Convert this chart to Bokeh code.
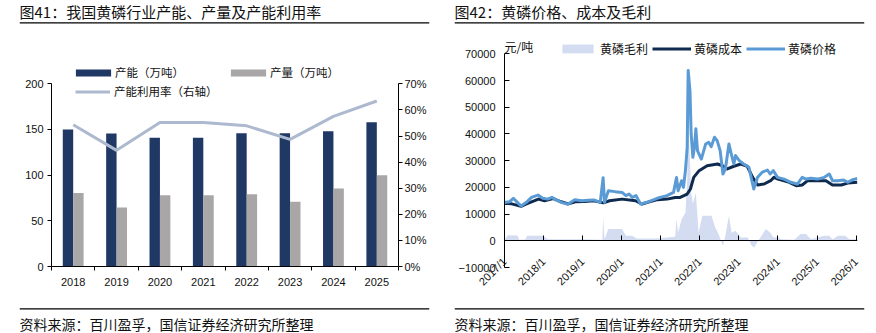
import math
import pandas as pd
from bokeh.plotting import figure
from bokeh.models import (Range1d, LinearAxis, DatetimeAxis, FixedTicker, NumeralTickFormatter, Legend,
                          LegendItem, Span, Label, DatetimeTickFormatter, ColumnDataSource,
                          CustomJSTickFormatter)
from bokeh.layouts import row, column
from bokeh.transform import dodge
from bokeh.embed import file_html
from bokeh.resources import INLINE

# ---------------- data: chart 41 ----------------
years = ["2018", "2019", "2020", "2021", "2022", "2023", "2024", "2025"]
capacity = [150, 145.5, 141, 141, 146, 146, 148, 158]          # 产能（万吨）
output = [80.5, 64.5, 78, 78, 79, 71, 85.5, 100]               # 产量（万吨）
utilization = [0.543, 0.445, 0.552, 0.552, 0.539, 0.487, 0.575, 0.634]  # 产能利用率

# ---------------- data: chart 42 ----------------
price_dates = ["2017-01-01", "2017-02-15", "2017-03-25", "2017-05-01", "2017-06-05", "2017-07-25",
               "2017-09-10", "2017-11-10", "2017-12-25", "2018-02-10", "2018-03-20", "2018-04-25",
               "2018-06-15", "2018-08-15", "2018-10-20", "2018-12-25", "2019-02-20", "2019-04-15",
               "2019-06-15", "2019-07-12", "2019-07-25", "2019-08-30", "2019-11-01", "2020-01-05",
               "2020-02-10", "2020-03-10", "2020-04-10", "2020-05-15", "2020-06-25", "2020-08-25",
               "2020-11-28", "2021-02-28", "2021-04-30", "2021-05-28", "2021-06-12", "2021-07-15",
               "2021-08-01", "2021-08-20", "2021-09-05", "2021-09-14", "2021-10-01", "2021-10-12",
               "2021-10-28", "2021-11-12", "2021-11-25", "2021-12-10", "2022-01-15", "2022-02-25",
               "2022-03-25", "2022-04-18", "2022-05-18", "2022-06-12", "2022-07-10", "2022-08-05",
               "2022-08-28", "2022-09-30", "2022-10-22", "2022-11-15", "2022-12-01", "2023-01-05",
               "2023-02-15", "2023-04-05", "2023-05-20", "2023-06-25", "2023-08-05", "2023-09-25",
               "2023-10-20", "2023-11-20", "2023-12-28", "2024-02-28", "2024-05-01", "2024-07-01",
               "2024-08-15", "2024-09-20", "2024-11-05", "2025-01-05", "2025-03-10", "2025-04-25",
               "2025-05-25", "2025-07-15", "2025-09-05", "2025-10-15", "2025-12-01", "2026-01-12"]
price = [14300, 14600, 15900, 14400, 13000, 14400,
         16250, 17100, 15900, 15600, 16250, 15400,
         14400, 13700, 15400, 15000, 15200, 15300,
         14400, 23600, 14400, 18750, 18400, 18100,
         16900, 17500, 16250, 16900, 13750, 14400,
         15900, 16900, 18100, 23700, 18750, 22500,
         20000, 26500, 35000, 63750, 56000, 40000,
         31250, 35000, 41900, 33750, 30600, 36250,
         36900, 35250, 38750, 37500, 33750, 25000,
         26900, 36250, 32500, 28750, 31900, 30000,
         28750, 27500, 19400, 23750, 25600, 26500,
         25000, 26250, 23750, 23100, 21900, 21250,
         23750, 23100, 23400, 23100, 23750, 25000,
         22500, 22500, 22750, 21900, 22900, 23300]

cost_dates = ["2017-01-01", "2017-03-01", "2017-06-05", "2017-07-20", "2017-10-10", "2017-11-15",
              "2018-01-10", "2018-04-01", "2018-06-15", "2018-08-20", "2018-10-25", "2019-01-15",
              "2019-04-15", "2019-07-15", "2019-09-10", "2020-01-05", "2020-05-10", "2020-07-10",
              "2020-09-01", "2020-12-01", "2021-03-01", "2021-05-15", "2021-07-01", "2021-09-05",
              "2021-10-05", "2021-11-05", "2021-12-25", "2022-03-10", "2022-06-15", "2022-08-01",
              "2022-09-15", "2022-11-15", "2023-01-20", "2023-03-20", "2023-05-10", "2023-06-25",
              "2023-08-25", "2023-10-25", "2023-11-25", "2024-01-01", "2024-04-01", "2024-06-20",
              "2024-08-15", "2024-10-05", "2025-01-05", "2025-03-25", "2025-05-25", "2025-08-15",
              "2025-10-15", "2026-01-12"]
cost = [14000, 13900, 12900, 13750, 15000, 15600,
        15000, 15800, 14600, 13800, 14600, 14700,
        15000, 14200, 15000, 15600, 15000, 13750,
        14400, 15400, 15600, 16200, 16250, 17500,
        19400, 23750, 26250, 28100, 28750, 28100,
        26900, 27900, 28750, 27900, 23750, 20900,
        21250, 22500, 23750, 23100, 22100, 20600,
        20900, 22500, 22500, 22500, 20900, 20900,
        21600, 21900]

margin_dates = ["2017-01-01", "2017-02-01", "2017-05-01", "2017-05-20", "2017-07-15", "2017-08-01",
                "2017-12-25", "2018-02-10", "2018-12-20", "2019-07-05", "2019-07-12", "2019-07-25",
                "2019-08-30", "2020-01-05", "2020-02-10", "2020-04-10", "2020-05-20", "2020-12-01",
                "2021-03-01", "2021-05-15", "2021-05-28", "2021-06-12", "2021-07-15", "2021-08-20",
                "2021-09-05", "2021-09-14", "2021-10-01", "2021-10-12", "2021-10-28", "2021-11-25",
                "2021-12-20", "2022-01-25", "2022-04-20", "2022-05-25", "2022-06-25", "2022-08-05",
                "2022-08-28", "2022-09-30", "2022-10-25", "2022-12-01", "2023-01-20", "2023-03-25",
                "2023-05-01", "2023-05-25", "2023-06-20", "2023-08-01", "2023-09-10", "2023-10-20",
                "2023-11-20", "2024-01-01", "2024-02-01", "2024-06-01", "2024-08-01", "2024-09-20",
                "2024-11-05", "2025-03-10", "2025-04-25", "2025-05-25", "2025-07-15", "2025-09-20",
                "2025-11-01", "2026-01-12"]
margin = [300, 2100, 2000, 400, 500, 1900,
          1900, 600, 600, 400, 8750, 600,
          4400, 4400, 1900, 1900, 900, 900,
          1250, 1500, 8100, 3100, 8100, 10600,
          23100, 44000, 30000, 18000, 14000, 18000,
          3000, 9400, 9400, 5000, 2500, -1900,
          2000, 9400, 3000, 3750, 1250, 1250,
          -1900, -2500, -600, 1900, 4400, 3100,
          1250, 1250, 600, 400, 2500, 2500,
          600, 1900, 1900, 600, 1900, 1900,
          600, 600]

year_ticks = ["2017-01-01", "2018-01-01", "2019-01-01", "2020-01-01", "2021-01-01",
              "2022-01-01", "2023-01-01", "2024-01-01", "2025-01-01", "2026-01-01"]

CJK = "'Noto Sans CJK SC', 'Liberation Sans', sans-serif"
NUM = "'Liberation Sans', Arial, sans-serif"
TXT = "#111111"


def style_common(p):
    p.outline_line_color = None
    p.background_fill_color = "white"
    p.border_fill_color = "white"


def band(width, height, left, right, text, text_y, line_y, size):
    p = figure(width=width, height=height, x_range=Range1d(0, width - left - right),
               y_range=Range1d(0, height), x_axis_type=None, y_axis_type=None,
               toolbar_location=None, output_backend="svg",
               min_border_left=left, min_border_right=right, min_border_top=0, min_border_bottom=0)
    style_common(p)
    p.add_layout(Span(location=line_y, dimension="width", line_color="#000000", line_width=1.2))
    p.add_layout(Label(x=0, y=text_y, text=text, text_baseline="middle", text_align="left",
                       text_font=CJK, text_font_size=size, text_color=TXT))
    return p


# ---------------- chart 41 ----------------
H1, TOP1, BOT1 = 278, 30, 40
FRAME1 = H1 - TOP1 - BOT1          # frame height in px
AXIS1 = 182.7                      # px covered by the 0..200 scale
xs = [i + 0.5 for i in range(len(years))]
src41 = ColumnDataSource(dict(x=xs, cap=capacity, out=output, util=utilization))

p1 = figure(width=438, height=H1, x_range=Range1d(0, len(years)),
            y_range=Range1d(0, 200 * FRAME1 / AXIS1),
            toolbar_location=None, output_backend="svg",
            min_border_left=51, min_border_right=40, min_border_top=TOP1, min_border_bottom=BOT1)
style_common(p1)
p1.grid.visible = False

r_cap = p1.vbar(x=dodge("x", -0.12), top="cap", width=0.24, source=src41,
                fill_color="#203864", line_color=None)
r_out = p1.vbar(x=dodge("x", 0.12), top="out", width=0.24, source=src41,
                fill_color="#A8A6A7", line_color=None)
p1.extra_y_ranges = {"pct": Range1d(0, 0.7 * FRAME1 / AXIS1)}
r_util = p1.line(x="x", y="util", source=src41, y_range_name="pct",
                 line_color="#ADB9CE", line_width=3, line_join="round")

ax = p1.xaxis[0]
ax.ticker = FixedTicker(ticks=xs, minor_ticks=list(range(len(years) + 1)))
ax.major_label_overrides = {x: y for x, y in zip(xs, years)}
ax.major_tick_in = 0
ax.major_tick_out = 0
ax.minor_tick_in = 0
ax.minor_tick_out = 4
ax.major_label_standoff = 7

ay = p1.yaxis[0]
ay.ticker = FixedTicker(ticks=[0, 50, 100, 150, 200])
ay.bounds = (0, 200)
ay.major_tick_in = 0
ay.major_tick_out = 4
ay.minor_tick_out = 0
ay.minor_tick_in = 0
ay.major_label_standoff = 4

ar = LinearAxis(y_range_name="pct", ticker=FixedTicker(ticks=[0, .1, .2, .3, .4, .5, .6, .7]),
                formatter=NumeralTickFormatter(format="0%"), bounds=(0, 0.7))
ar.major_tick_in = 0
ar.major_tick_out = 4
ar.minor_tick_in = 0
ar.minor_tick_out = 0
ar.major_label_standoff = 2
p1.add_layout(ar, "right")

for a in [ax, ay, ar]:
    a.axis_line_color = "#000000"
    a.major_tick_line_color = "#000000"
    a.minor_tick_line_color = "#000000"
    a.major_label_text_font = NUM
    a.major_label_text_font_size = "11px"
    a.major_label_text_color = TXT

leg_a = Legend(items=[LegendItem(label="产能（万吨）", renderers=[r_cap]),
                      LegendItem(label="产量（万吨）", renderers=[r_out])],
               orientation="horizontal", location=(20, 186), spacing=42,
               glyph_width=44, glyph_height=9, label_standoff=0, label_height=16,
               padding=0, margin=0, border_line_color=None, background_fill_alpha=0,
               label_text_font=CJK, label_text_font_size="11.5px", label_text_color=TXT)
leg_b = Legend(items=[LegendItem(label="产能利用率（右轴）", renderers=[r_util])],
               orientation="horizontal", location=(24, 167),
               glyph_width=35, glyph_height=9, label_standoff=4, label_height=16,
               padding=0, margin=0, border_line_color=None, background_fill_alpha=0,
               label_text_font=CJK, label_text_font_size="11.5px", label_text_color=TXT)
p1.add_layout(leg_a)
p1.add_layout(leg_b)

# ---------------- chart 42 ----------------
H2, TOP2, BOT2 = 278, 10, 39
FRAME2 = H2 - TOP2 - BOT2
AXIS2 = 213.7                      # px covered by the -10000..70000 scale
s_price = ColumnDataSource(dict(x=pd.to_datetime(price_dates), y=price))
s_cost = ColumnDataSource(dict(x=pd.to_datetime(cost_dates), y=cost))
s_margin = ColumnDataSource(dict(x=pd.to_datetime(margin_dates), y=margin))

p2 = figure(width=438, height=H2, x_axis_type="datetime",
            x_range=Range1d(pd.Timestamp("2017-01-01"), pd.Timestamp("2026-01-14")),
            y_range=Range1d(-10000, -10000 + 80000 * FRAME2 / AXIS2),
            toolbar_location=None, output_backend="svg",
            min_border_left=66, min_border_right=19, min_border_top=TOP2, min_border_bottom=BOT2)
style_common(p2)
p2.grid.visible = False

r_m = p2.varea(x="x", y1=0, y2="y", source=s_margin, fill_color="#D3DCF1")
r_c = p2.line(x="x", y="y", source=s_cost, line_color="#0E2A4F", line_width=3, line_join="round")
r_p = p2.line(x="x", y="y", source=s_price, line_color="#5B9BD5", line_width=3, line_join="round")

tick_ms = [int(t.value // 10**6) for t in pd.to_datetime(year_ticks)]

# labels of the time axis (below the frame, rotated)
bx = p2.xaxis[0]
bx.ticker = FixedTicker(ticks=tick_ms)
bx.formatter = DatetimeTickFormatter(years="%Y/%-m", months="%Y/%-m", days="%Y/%-m")
bx.axis_line_color = None
bx.major_tick_line_color = None
bx.minor_tick_line_color = None
bx.major_label_standoff = -14
bx.major_label_orientation = math.pi / 4

# the time axis line itself, crossing at zero
zx = DatetimeAxis(ticker=FixedTicker(ticks=tick_ms), fixed_location=0,
                  formatter=CustomJSTickFormatter(code="return ''"))
zx.major_tick_in = 5
zx.major_tick_out = 0
zx.minor_tick_in = 0
zx.minor_tick_out = 0
zx.major_label_standoff = 0
zx.axis_line_color = "#000000"
zx.major_tick_line_color = "#000000"
p2.add_layout(zx, "below")

by = p2.yaxis[0]
by.ticker = FixedTicker(ticks=[-10000, 0, 10000, 20000, 30000, 40000, 50000, 60000, 70000])
by.bounds = (-10000, 70000)
by.major_tick_in = 5
by.major_tick_out = 0
by.minor_tick_in = 0
by.minor_tick_out = 0
by.major_label_standoff = 9
by.axis_line_color = "#000000"
by.major_tick_line_color = "#000000"

for a in [bx, by]:
    a.major_label_text_font = NUM
    a.major_label_text_font_size = "11px"
    a.major_label_text_color = TXT

p2.add_layout(Label(x=pd.Timestamp(year_ticks[0]), y=70000, text="元/吨", text_baseline="bottom",
                    text_align="left", x_offset=0, y_offset=-1, text_font=CJK,
                    text_font_size="12px", text_color=TXT))

leg_c = Legend(items=[LegendItem(label="黄磷毛利", renderers=[r_m]),
                      LegendItem(label="黄磷成本", renderers=[r_c]),
                      LegendItem(label="黄磷价格", renderers=[r_p])],
               orientation="horizontal", location=(54, 210), spacing=4,
               glyph_width=39, glyph_height=11, label_standoff=3, label_height=16,
               padding=0, margin=0, border_line_color=None, background_fill_alpha=0,
               label_text_font=CJK, label_text_font_size="12px", label_text_color=TXT)
p2.add_layout(leg_c)

# ---------------- headers / footers ----------------
SRC = "资料来源：百川盈孚，国信证券经济研究所整理"
h1 = band(438, 28, 19, 9, "图41：我国黄磷行业产能、产量及产能利用率", 17, 5.7, "15px")
h2 = band(438, 28, 16, 12, "图42：黄磷价格、成本及毛利", 17, 5.7, "15px")
f1 = band(438, 27, 19, 9, SRC, 10, 24.7, "14px")
f2 = band(438, 27, 16, 12, SRC, 10, 24.7, "14px")

layout = row(column(row(h1), p1, row(f1)), column(row(h2), p2, row(f2)))

open("out.html", "w").write(file_html(layout, INLINE))
